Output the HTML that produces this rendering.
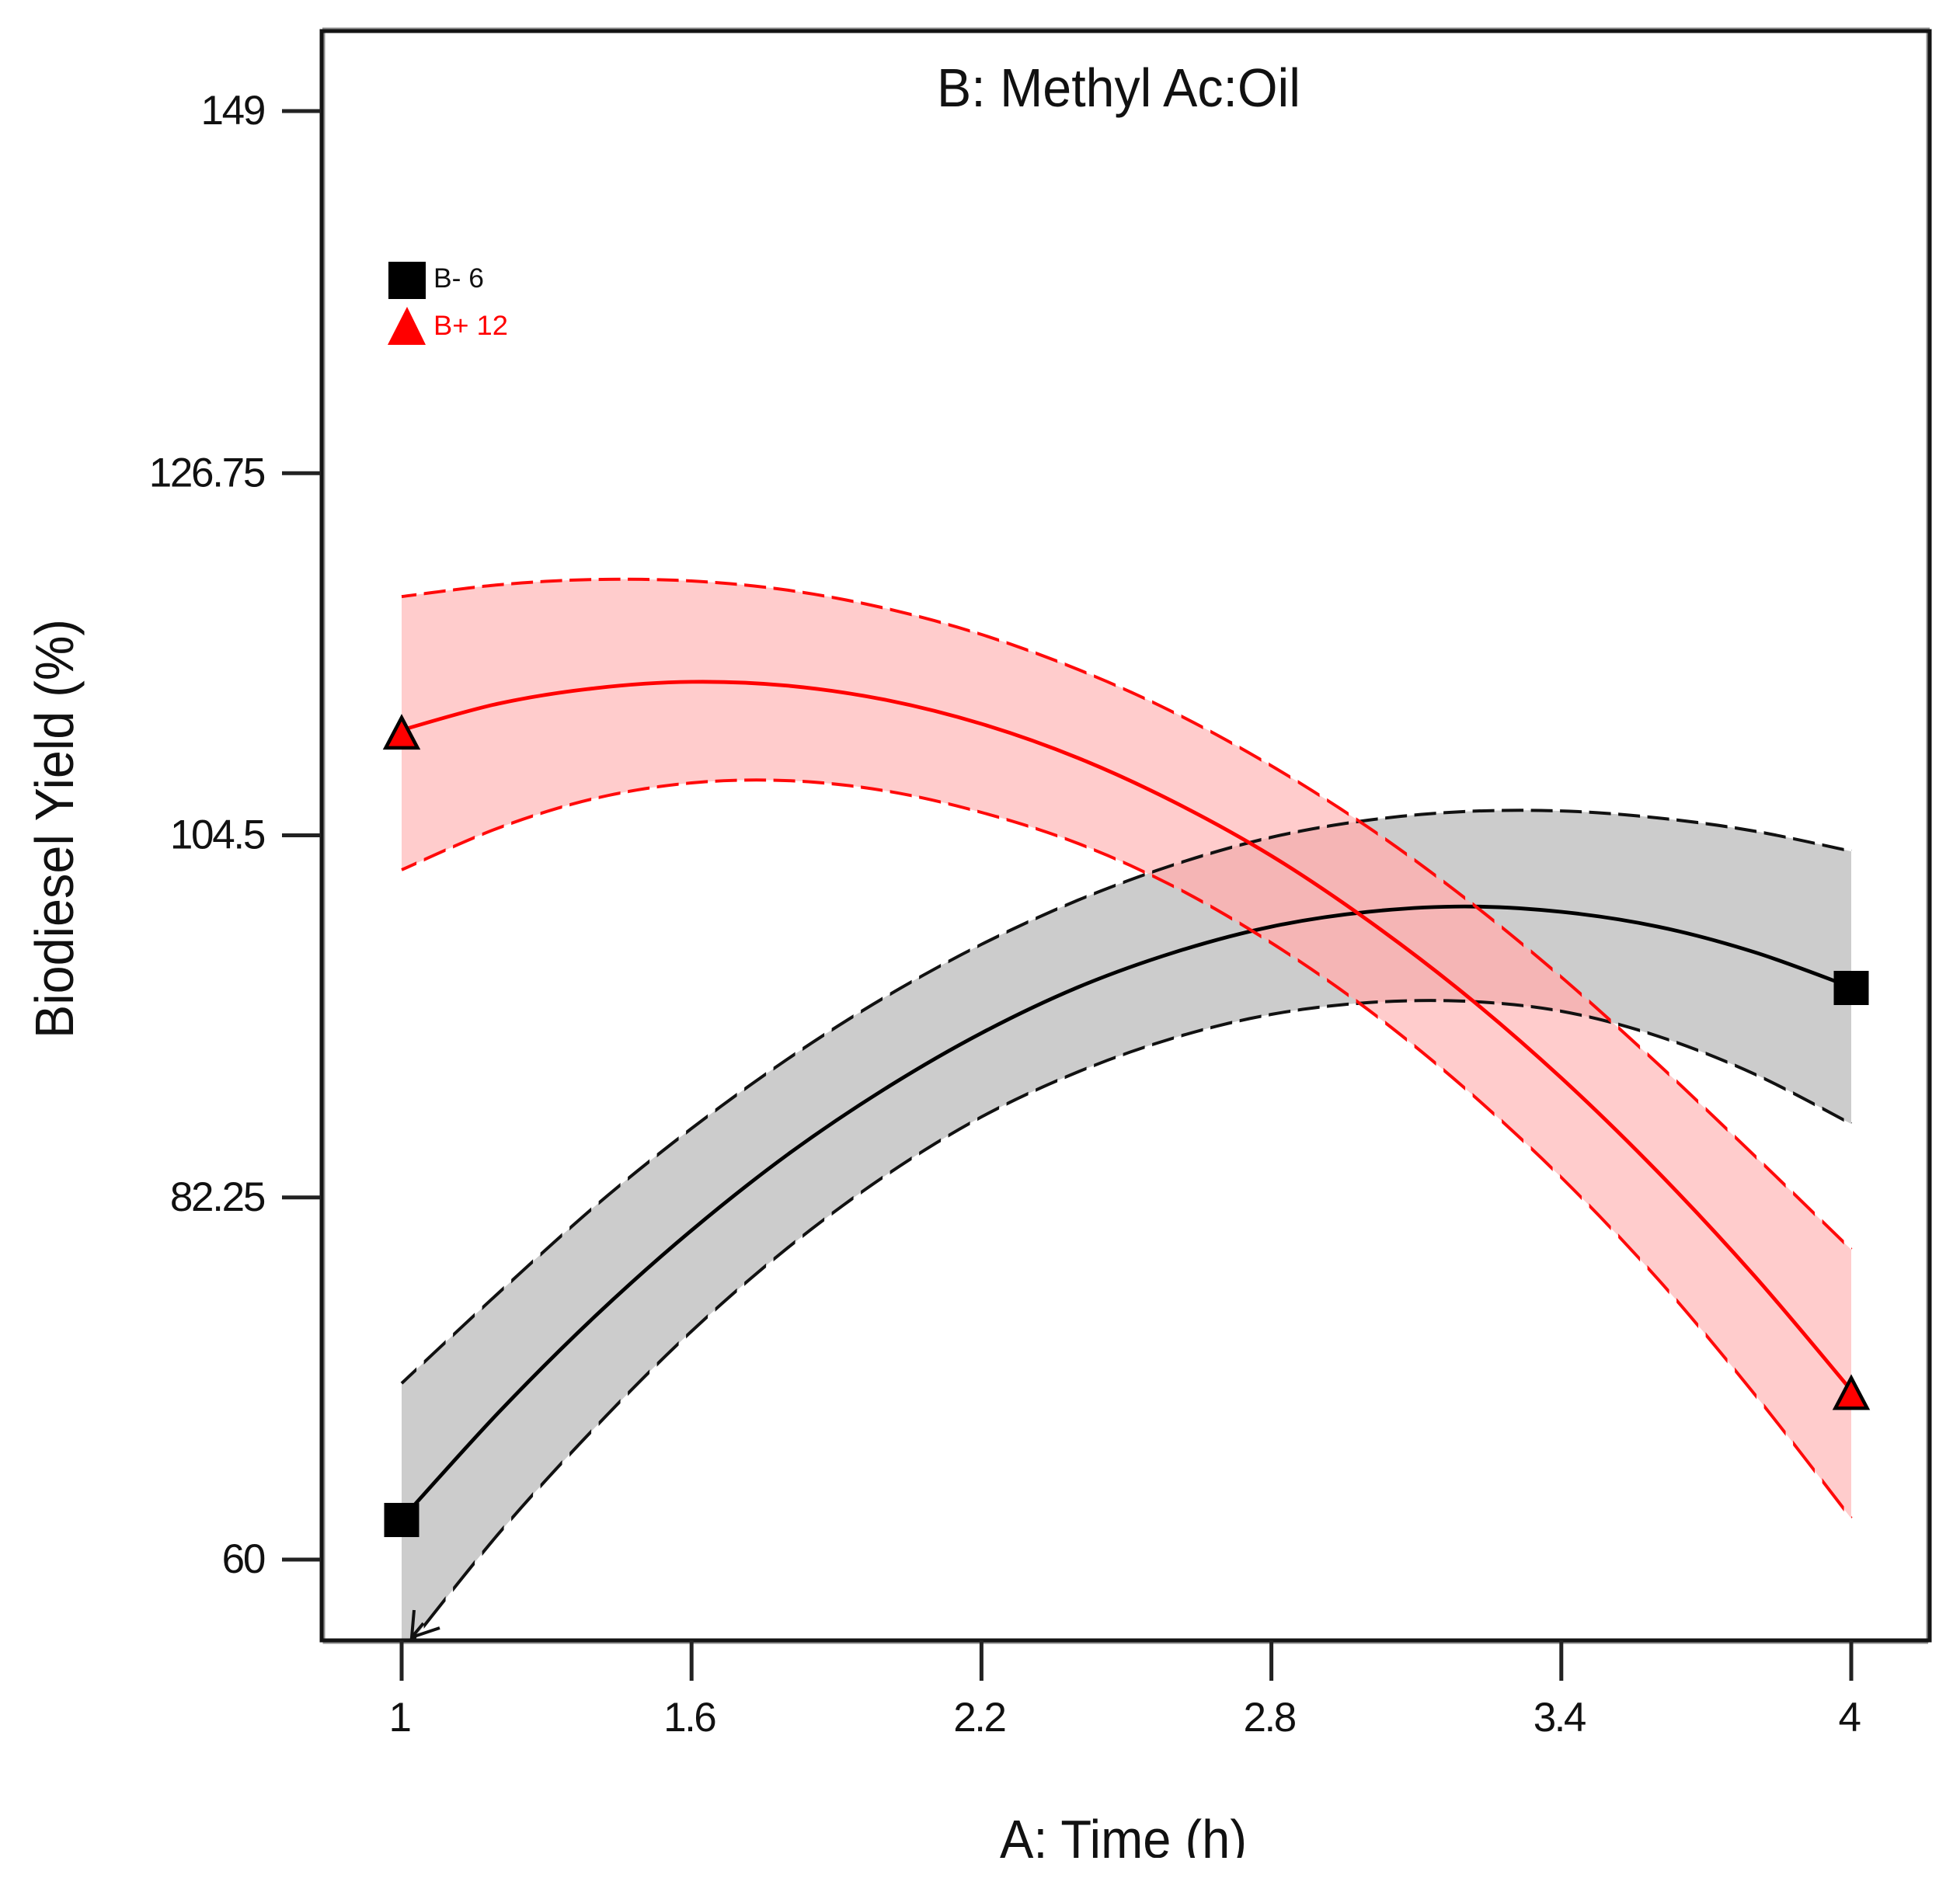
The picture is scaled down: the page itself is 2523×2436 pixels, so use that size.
<!DOCTYPE html>
<html lang="en">
<head>
<meta charset="utf-8">
<title>Biodiesel Yield interaction plot</title>
<style>
  html, body { margin: 0; padding: 0; background: #fff; }
  svg { display: block; }
  text { font-family: "Liberation Sans", sans-serif; fill: #111; }
</style>
</head>
<body>
<svg id="chart" xmlns="http://www.w3.org/2000/svg" width="2523" height="2436" viewBox="0 0 2523 2436">
  <defs>
    <clipPath id="plot-clip"><rect x="415" y="40" width="2069" height="2072"></rect></clipPath>
    <clipPath id="x-title-clip"><rect x="1200" y="2300" width="500" height="92"></rect></clipPath>
    <pattern id="dash-black" patternUnits="userSpaceOnUse" x="545.6" y="0" width="37.5" height="2436">
      <rect x="0" y="0" width="28" height="2436" fill="#111"></rect>
    </pattern>
    <pattern id="dash-red" patternUnits="userSpaceOnUse" x="545.6" y="0" width="37.5" height="2436">
      <rect x="0" y="0" width="28" height="2436" fill="#ff0a0a"></rect>
    </pattern>
  </defs>
  <rect x="0" y="0" width="2523" height="2436" fill="#fff"></rect>
  <g id="bands"></g>
  <g id="lines"></g>
  <path d="M417 42 V2115 H2482 M2481 42 V2115" fill="none" stroke="#8f8f8f" stroke-width="3"></path>
  <path d="M415 37 H2484" fill="none" stroke="#8f8f8f" stroke-width="3"></path>
  <rect x="414" y="40" width="2070" height="2072" fill="none" stroke="#141414" stroke-width="5"></rect>
  <g id="axes"></g>
  <g id="markers"></g>
  <text x="1206" y="137" font-size="70" textLength="468" lengthAdjust="spacingAndGlyphs">B: Methyl Ac:Oil</text>
  <text x="1287" y="2392" font-size="70" textLength="318" lengthAdjust="spacingAndGlyphs" clip-path="url(#x-title-clip)">A: Time (h)</text>
  <text transform="translate(94 1337) rotate(-90)" x="0" y="0" font-size="70" textLength="540" lengthAdjust="spacingAndGlyphs">Biodiesel Yield (%)</text>
  <g>
    <rect x="500" y="337" width="48" height="48" fill="#000"></rect>
    <text x="558" y="370" font-size="35" textLength="65" lengthAdjust="spacingAndGlyphs">B- 6</text>
    <polygon points="524,395 548,444 499,444" fill="#ff0000"></polygon>
    <text x="558" y="431" font-size="35" textLength="96" lengthAdjust="spacingAndGlyphs" style="fill:#ff0000">B+ 12</text>
  </g>
</svg>
<script>
const timeValues = [1, 1.2, 1.4, 1.6, 1.8, 2.0, 2.2, 2.4, 2.6, 2.8, 3.0, 3.2, 3.4, 3.6, 3.8, 4];
const blackMean = [62.48, 69.02, 74.94, 80.23, 84.91, 88.92, 92.35, 95.17, 97.32, 98.89, 99.80, 100.13, 99.80, 98.89, 97.32, 95.17];
const blackUpper = [70.83, 76.37, 81.71, 86.49, 90.78, 94.55, 97.80, 100.52, 102.71, 104.38, 105.43, 105.96, 106.00, 105.57, 104.76, 103.52];
const blackLower = [54.18, 61.57, 68.11, 74.03, 79.18, 83.57, 87.20, 89.97, 92.07, 93.50, 94.22, 94.31, 93.69, 92.16, 89.83, 86.77];
const redMean = [110.97, 112.59, 113.54, 113.93, 113.69, 112.83, 111.35, 109.25, 106.53, 103.24, 99.27, 94.74, 89.59, 83.81, 77.42, 70.40];
const redUpper = [119.17, 119.89, 120.22, 120.13, 119.56, 118.46, 116.84, 114.69, 112.02, 108.77, 105.00, 100.66, 95.79, 90.45, 84.81, 79.05];
const redLower = [102.38, 104.95, 106.77, 107.72, 107.86, 107.24, 105.91, 104.00, 101.33, 97.89, 93.79, 88.97, 83.48, 77.23, 70.16, 62.53];
const xTickValues = [1, 1.6, 2.2, 2.8, 3.4, 4];
const xTickLabels = ['1', '1.6', '2.2', '2.8', '3.4', '4'];
const yTickValues = [60, 82.25, 104.5, 126.75, 149];
const yTickLabels = ['60', '82.25', '104.5', '126.75', '149'];

const SVGNS = 'http://www.w3.org/2000/svg';
function sx(a) { return 517 + (a - 1) * 622; }
function sy(v) { return 2008 - (v - 60) * 20.955; }
function make(tag, attrs, parent) {
  const el = document.createElementNS(SVGNS, tag);
  for (const k in attrs) el.setAttribute(k, attrs[k]);
  parent.appendChild(el);
  return el;
}
function toPoints(xs, ys) {
  return xs.map(function (a, i) { return [sx(a), sy(ys[i])]; });
}
function curveSegments(pts) {
  let d = '';
  for (let i = 0; i < pts.length - 1; i++) {
    const p0 = pts[Math.max(i - 1, 0)];
    const p1 = pts[i];
    const p2 = pts[i + 1];
    const p3 = pts[Math.min(i + 2, pts.length - 1)];
    const c1x = p1[0] + (p2[0] - p0[0]) / 6;
    const c1y = p1[1] + (p2[1] - p0[1]) / 6;
    const c2x = p2[0] - (p3[0] - p1[0]) / 6;
    const c2y = p2[1] - (p3[1] - p1[1]) / 6;
    d += ' C' + c1x.toFixed(1) + ' ' + c1y.toFixed(1) + ' ' + c2x.toFixed(1) + ' ' + c2y.toFixed(1) + ' ' + p2[0].toFixed(1) + ' ' + p2[1].toFixed(1);
  }
  return d;
}
function linePath(ys) {
  const pts = toPoints(timeValues, ys);
  return 'M' + pts[0][0].toFixed(1) + ' ' + pts[0][1].toFixed(1) + curveSegments(pts);
}
function bandPath(upper, lower) {
  const up = toPoints(timeValues, upper);
  const lo = toPoints(timeValues, lower).reverse();
  return 'M' + up[0][0].toFixed(1) + ' ' + up[0][1].toFixed(1) + curveSegments(up) +
    ' L' + lo[0][0].toFixed(1) + ' ' + lo[0][1].toFixed(1) + curveSegments(lo) + ' Z';
}

const bands = document.getElementById('bands');
const lines = document.getElementById('lines');
const axes = document.getElementById('axes');
const markers = document.getElementById('markers');
const defs = document.querySelector('defs');

const blackBandD = bandPath(blackUpper, blackLower);
const redBandD = bandPath(redUpper, redLower);

const redClip = make('clipPath', { id: 'red-band-clip' }, defs);
make('path', { d: redBandD }, redClip);

const bandGroup = make('g', { 'clip-path': 'url(#plot-clip)' }, bands);
const blackBand = make('path', { d: blackBandD, fill: '#cccccc' }, bandGroup);


const redBand = make('path', { d: redBandD, fill: '#ffcccc' }, bandGroup);


const overlapWrap = make('g', { 'clip-path': 'url(#red-band-clip)' }, bandGroup);
const overlap = make('path', { d: blackBandD, fill: '#f5b5b5' }, overlapWrap);



const lineGroup = make('g', { 'clip-path': 'url(#plot-clip)', fill: 'none' }, lines);
const blackUpperLine = make('path', { d: linePath(blackUpper), stroke: 'url(#dash-black)', 'stroke-width': 4 }, lineGroup);


const blackLowerLine = make('path', { d: linePath(blackLower), stroke: 'url(#dash-black)', 'stroke-width': 4 }, lineGroup);


const blackMeanLine = make('path', { d: linePath(blackMean), stroke: '#000', 'stroke-width': 4.8 }, lineGroup);


const redUpperLine = make('path', { d: linePath(redUpper), stroke: 'url(#dash-red)', 'stroke-width': 4 }, lineGroup);


const redLowerLine = make('path', { d: linePath(redLower), stroke: 'url(#dash-red)', 'stroke-width': 4 }, lineGroup);


const redMeanLine = make('path', { d: linePath(redMean), stroke: '#ff0000', 'stroke-width': 4.8 }, lineGroup);



xTickValues.forEach(function (a, i) {
  const tick = make('line', { x1: sx(a), x2: sx(a), y1: 2112, y2: 2164, stroke: '#222', 'stroke-width': 5 }, axes);
  
  
  const label = make('text', { x: sx(a) - 3, y: 2229, 'font-size': 53, 'text-anchor': 'middle', 'letter-spacing': '-2.5' }, axes);
  label.textContent = xTickLabels[i];
  
  
});
yTickValues.forEach(function (v, i) {
  const tick = make('line', { x1: 363, x2: 413, y1: sy(v), y2: sy(v), stroke: '#222', 'stroke-width': 5 }, axes);
  
  
  const label = make('text', { x: 340, y: sy(v) + 17, 'font-size': 53, 'text-anchor': 'end', 'letter-spacing': '-2.3' }, axes);
  label.textContent = yTickLabels[i];
  
  
});

function addSquare(a, v) {
  const s = make('rect', { x: sx(a) - 22.5, y: sy(v) - 21, width: 45, height: 44, fill: '#000' }, markers);
  
  
}
function addTriangle(a, v) {
  const x = sx(a);
  const y = sy(v);
  const pts = x + ',' + (y - 16) + ' ' + (x + 20.5) + ',' + (y + 23) + ' ' + (x - 20.5) + ',' + (y + 23);
  const t = make('polygon', { points: pts, fill: '#ff0000', stroke: '#000', 'stroke-width': 4.5 }, markers);
  
  
}
const lastIndex = timeValues.length - 1;
addSquare(timeValues[0], blackMean[0]);
addSquare(timeValues[lastIndex], blackMean[lastIndex]);
addTriangle(timeValues[0], redMean[0]);
addTriangle(timeValues[lastIndex], redMean[lastIndex]);

const arrow = make('path', { d: 'M533 2073 L530 2108 L566 2096 M530 2108 L545 2090', fill: 'none', stroke: '#111', 'stroke-width': 4 }, markers);


</script>
</body>
</html>
